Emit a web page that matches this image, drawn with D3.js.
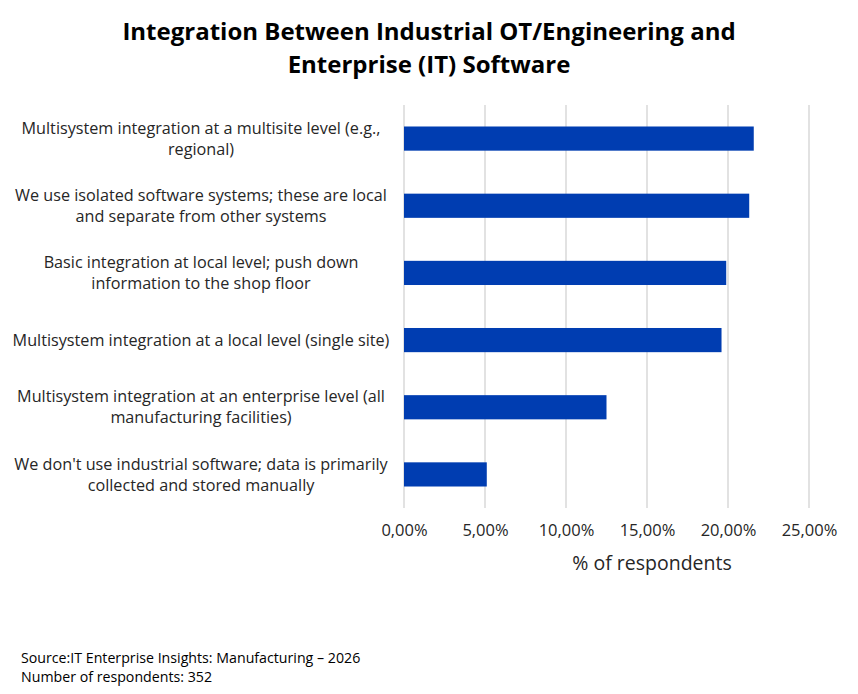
<!DOCTYPE html>
<html>
<head>
<meta charset="utf-8">
<script src="https://cdn.jsdelivr.net/npm/d3@7"></script>
<style>
    body { margin: 0; background: #fff; }
    svg { font-family: "Open Sans", "Liberation Sans", sans-serif; }
</style>
</head>
<body>
<div id="chart"></div>
<script>
// Categories, top to bottom, already split into the wrapped lines shown
const categories = [
    ["Multisystem integration at a multisite level (e.g.,", "regional)"],
    ["We use isolated software systems; these are local", "and separate from other systems"],
    ["Basic integration at local level; push down", "information to the shop floor"],
    ["Multisystem integration at a local level (single site)"],
    ["Multisystem integration at an enterprise level (all", "manufacturing facilities)"],
    ["We don't use industrial software; data is primarily", "collected and stored manually"]
];
// Share of respondents (n = 352)
const values = [0.2159, 0.2131, 0.1989, 0.1960, 0.1250, 0.0511];
const xTicks = [0, 0.05, 0.10, 0.15, 0.20, 0.25];

const titleLines = ["Integration Between Industrial OT/Engineering and", "Enterprise (IT) Software"];
const sourceLines = ["Source:IT Enterprise Insights: Manufacturing \u2013 2026", "Number of respondents: 352"];

const width = 858, height = 694;
const margin = {top: 105, right: 49, bottom: 186, left: 404};
const innerW = width - margin.left - margin.right;
const innerH = height - margin.top - margin.bottom;

const svg = d3.select("#chart")
    .append("svg")
        .attr("width", width)
        .attr("height", height);

// Title
svg.append("text")
    .attr("x", 429)
    .attr("y", 40)
    .attr("text-anchor", "middle")
    .style("font-size", "24px")
    .style("font-weight", "bold")
    .style("fill", "#000")
    .selectAll("tspan")
    .data(titleLines)
    .enter()
    .append("tspan")
        .attr("x", 429)
        .attr("dy", (d, i) => i === 0 ? 0 : 33)
        .text(d => d);

const g = svg.append("g")
    .attr("transform", "translate(" + margin.left + "," + margin.top + ")");

const xScale = d3.scaleLinear()
    .domain([0, 0.25])
    .range([0, innerW]);

const yScale = d3.scaleBand()
    .domain(d3.range(categories.length))
    .range([0, innerH])
    .paddingInner(0.64)
    .paddingOuter(0.32);

// Gridlines
g.selectAll(".grid")
    .data(xTicks)
    .enter()
    .append("line")
        .attr("x1", d => xScale(d))
        .attr("x2", d => xScale(d))
        .attr("y1", 0)
        .attr("y2", innerH)
        .style("stroke", "#d9d9d9")
        .style("stroke-width", 1.5);

// Bars
g.selectAll(".bar")
    .data(values)
    .enter()
    .append("rect")
        .attr("x", xScale(0))
        .attr("y", (d, i) => yScale(i))
        .attr("width", d => xScale(d) - xScale(0))
        .attr("height", yScale.bandwidth())
        .style("fill", "#003DB1");

// X axis
const fmt = d => d3.format(".2f")(d * 100).replace(".", ",") + "%";
const xAxis = d3.axisBottom(xScale).tickValues(xTicks).tickFormat(fmt).tickSize(0);
const xAxisGroup = g.append("g")
    .attr("transform", "translate(0," + innerH + ")")
    .call(xAxis);
xAxisGroup.select(".domain").remove();
xAxisGroup.selectAll("text")
    .attr("dy", 0)
    .attr("y", 28)
    .style("font-size", "16.5px")
    .style("font-family", "\"Open Sans\", sans-serif")
    .style("fill", "#262626");

// Category labels
const labelX = 201 - margin.left;
g.selectAll(".cat")
    .data(categories)
    .enter()
    .append("text")
        .attr("text-anchor", "middle")
        .style("font-size", "16.2px")
        .style("fill", "#262626")
        .each(function(lines, i) {
            const cy = yScale(i) + yScale.bandwidth() / 2;
            const lh = 21;
            const start = cy - (lines.length - 1) * lh / 2;
            d3.select(this).selectAll("tspan")
                .data(lines)
                .enter()
                .append("tspan")
                    .attr("x", labelX)
                    .attr("y", (d, j) => start + j * lh)
                    .attr("dy", "0.35em")
                    .text(d => d);
        });

// Axis title
svg.append("text")
    .attr("x", 652)
    .attr("y", 570)
    .attr("text-anchor", "middle")
    .style("font-size", "19.5px")
    .style("fill", "#262626")
    .text("% of respondents");

// Source note
svg.append("text")
    .style("font-size", "14.2px")
    .style("fill", "#000")
    .selectAll("tspan")
    .data(sourceLines)
    .enter()
    .append("tspan")
        .attr("x", 21)
        .attr("y", (d, i) => 663 + i * 19)
        .text(d => d);
</script>
</body>
</html>
